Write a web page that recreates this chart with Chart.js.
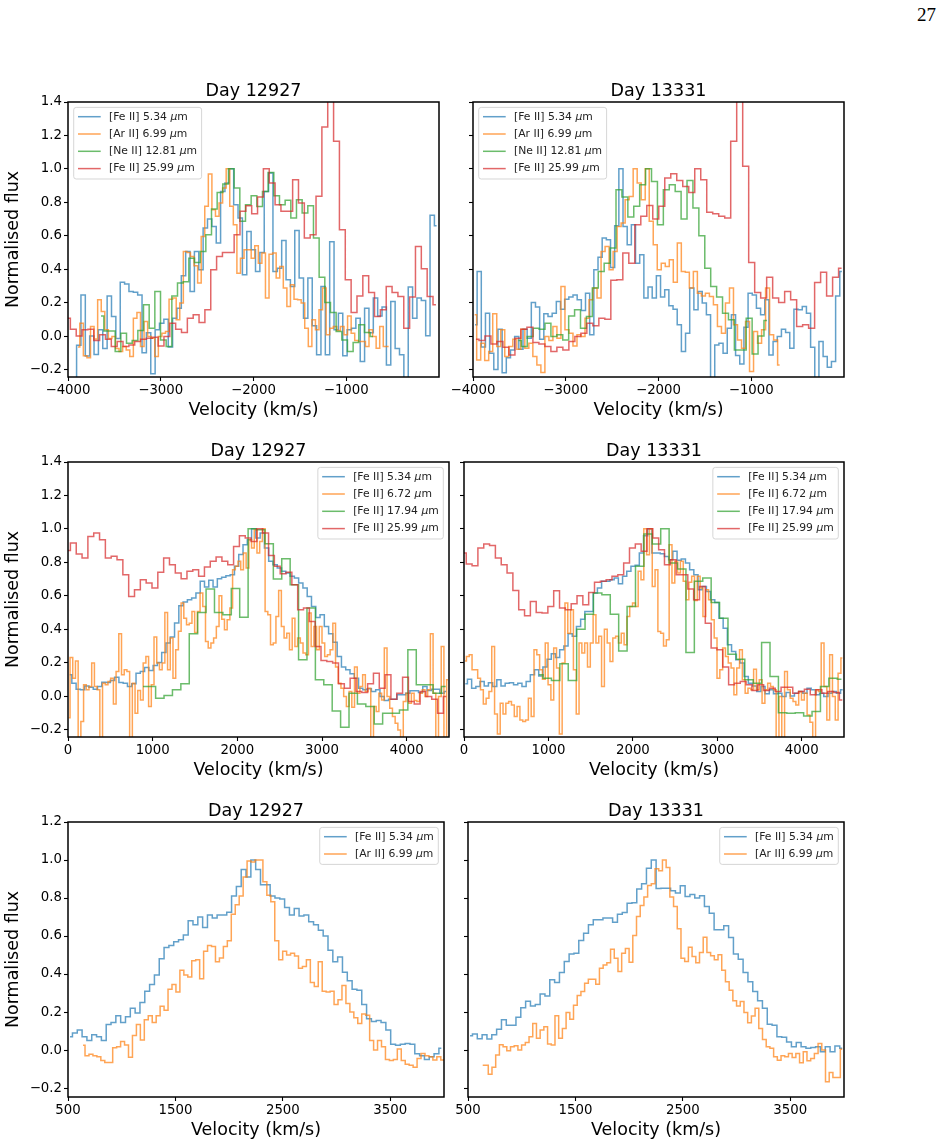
<!DOCTYPE html>
<html>
<head>
<meta charset="utf-8">
<title>Line profiles</title>
<script src="https://cdn.jsdelivr.net/npm/chart.js@4.4.1/dist/chart.umd.min.js"></script>
<style>
    body { margin: 0; background: #fff; width: 945px; height: 1146px; position: relative; overflow: hidden; }
    canvas { position: absolute; }
    #pageNo { position: absolute; left: 917px; top: 5px; font: 19px/19px "Liberation Serif", serif; color: #000; }
</style>
</head>
<body>
<div id="pageNo">27</div>
<canvas id="topA"></canvas>
<canvas id="topB"></canvas>
<canvas id="midA"></canvas>
<canvas id="midB"></canvas>
<canvas id="botA"></canvas>
<canvas id="botB"></canvas>
<script>
"use strict";

// ---- tick labels ----
const yTicksTall = [-0.2, 0.0, 0.2, 0.4, 0.6, 0.8, 1.0, 1.2, 1.4];
const yTicksShort = [-0.2, 0.0, 0.2, 0.4, 0.6, 0.8, 1.0, 1.2];
const xTicksBlue = [-4000, -3000, -2000, -1000];
const xTicksRed = [0, 1000, 2000, 3000, 4000];
const xTicksBottom = [500, 1500, 2500, 3500];

const dayLabels = ['Day 12927', 'Day 13331'];
const linesTop = ['[Fe II] 5.34 μm', '[Ar II] 6.99 μm', '[Ne II] 12.81 μm', '[Fe II] 25.99 μm'];
const linesMid = ['[Fe II] 5.34 μm', '[Fe II] 6.72 μm', '[Fe II] 17.94 μm', '[Fe II] 25.99 μm'];
const linesBot = ['[Fe II] 5.34 μm', '[Ar II] 6.99 μm'];

// ---- spectra: velocity of first and last bin (km/s) + normalised flux per bin ----
// top row, Day 12927
const topA_fe534_v = [-3978, -26];
const topA_fe534 = [-0.3, -0.3, -0.055, 0.245, -0.12, 0, -0.11, 0.037, -0.075, 0.24, 0.117, -0.015, 0.322, 0.312, 0.266, 0.262, 0.246, -0.1, 0.02, -0.226, 0.037, 0.077, 0.1, -0.065, 0.106, 0.166, 0.36, 0.506, 0.266, 0.506, 0.396, 0.646, 0.7, 0.656, 0.556, 0.865, 0.915, 1.0, 0.785, 0.706, 0.367, 0.626, 0.516, 0.386, 0.5, 0.865, 0.975, 0.386, 0.406, 0.572, 0.337, 0.297, 0.632, 0.347, 0.107, 0.347, 0.061, -0.112, 0.297, -0.112, 0.564, 0.037, 0.137, -0.118, 0.037, 0.047, 0.106, -0.153, 0.166, 0.02, 0.227, 0.12, 0.173, -0.173, 0.207, -0.075, -0.112, -0.3, 0.293, 0.106, 0.227, 0.213, 0.002, 0.722, 0.66];
const topA_ar699_v = [-3892, -543];
const topA_ar699 = [-0.065, 0.077, -0.118, -0.13, 0.057, -0.018, 0.217, 0.147, 0.037, -0.015, -0.003, -0.075, -0.093, -0.063, -0.083, -0.123, 0.107, 0.141, -0.063, 0.087, -0.003, -0.013, -0.123, -0.003, 0.017, 0.027, 0.22, 0.227, 0.097, 0.197, 0.506, 0.5, 0.476, 0.42, 0.317, 0.596, 0.776, 0.97, 0.756, 0.716, 0.796, 0.885, 1.0, 0.776, 0.666, 0.376, 0.466, 0.516, 0.516, 0.466, 0.54, 0.436, 0.496, 0.227, 0.49, 0.496, 0.347, 0.416, 0.287, 0.177, 0.307, 0.22, 0.217, 0.197, 0.047, -0.063, 0.097, 0.037, 0.157, 0.287, 0.007, 0.047, 0.057, 0.033, 0.057, 0.007, 0.12, 0.017, -0.027, -0.033, -0.033, -0.063, 0.037, -0.003, -0.073, 0.057, -0.063, -0.063];
const topA_ne1281_v = [-3644, -712];
const topA_ne1281 = [0.12, 0.03, 0.03, -0.093, 0.017, -0.043, -0.027, 0.033, 0.187, 0.047, 0.267, -0.023, -0.063, 0.24, 0.317, 0.325, 0.466, 0.44, 0.506, 0.606, 0.76, 0.859, 0.909, 1.0, 0.885, 0.686, 0.786, 0.839, 0.775, 0.865, 0.979, 0.839, 0.786, 0.812, 0.706, 0.816, 0.736, 0.78, 0.586, 0.352, 0.2, 0.141, 0.027, -0.023, -0.093, -0.039, 0.067, 0.021, -0.003];
const topA_fe2599_v = [-4006, -33];
const topA_fe2599 = [0.107, 0.041, 0.001, 0.037, 0.041, -0.027, 0.007, -0.019, -0.063, -0.033, -0.063, -0.053, -0.033, -0.019, -0.013, -0.007, -0.059, -0.003, 0.077, 0.041, 0.021, 0.107, 0.127, 0.081, 0.157, 0.396, 0.476, 0.5, 0.5, 0.606, 0.746, 0.78, 0.732, 0.831, 1.0, 0.915, 0.786, 0.746, 0.746, 0.935, 0.796, 0.586, 0.606, 0.836, 1.25, 1.6, 1.165, 0.636, 0.337, 0.141, 0.24, 0.361, 0.261, 0.117, 0.157, 0.297, 0.261, 0.237, 0.047, 0.233, 0.536, 0.402, 0.237, 0.187];

// top row, Day 13331
const topB_fe534_v = [-3978, -23];
const topB_fe534 = [0.067, 0.386, -0.065, 0.137, -0.103, -0.2, 0.041, -0.22, -0.13, -0.083, -0.003, -0.079, 0.041, -0.013, 0.2, 0.173, -0.019, 0.133, 0.117, 0.137, 0.207, 0.161, 0.22, 0.233, 0.246, 0.217, 0.153, 0.256, 0.007, 0.396, 0.472, 0.586, 0.576, 0.41, 0.66, 1.0, 0.656, 0.546, 0.666, 0.436, 0.486, 0.227, 0.293, 0.227, 0.361, 0.233, 0.277, 0.181, 0.161, 0.067, -0.093, 0.017, 0.287, 0.157, 0.266, 0.197, 0.127, -0.3, -0.053, -0.043, -0.103, 0.047, 0.127, -0.117, -0.167, 0.053, 0.256, 0.246, 0.166, 0.127, 0.217, -0.113, -0.033, -0.003, 0.041, 0.021, -0.073, 0.161, 0.157, 0.177, 0.137, -0.067, -0.3, -0.033, -0.123, -0.187, -0.153, 0.24, 0.386];
const topB_ar699_v = [-3982, -694];
const topB_ar699 = [0.127, -0.143, -0.043, -0.147, -0.093, 0.133, -0.063, 0.037, -0.123, -0.063, -0.019, -0.079, 0.041, -0.073, -0.043, -0.123, -0.173, -0.218, -0.003, -0.027, 0.057, -0.013, 0.297, 0.037, 0.017, -0.059, 0.007, -0.003, 0.107, 0.217, 0.287, 0.227, 0.506, 0.536, 0.396, 0.506, 0.656, 0.676, 0.815, 0.835, 1.0, 0.915, 0.815, 1.0, 0.686, 0.546, 0.396, 0.436, 0.416, 0.456, 0.322, 0.556, 0.386, 0.381, 0.287, 0.386, 0.256, 0.24, 0.256, 0.237, 0.187, 0.057, 0.017, 0.197, 0.287, 0.067, -0.023, -0.073, 0.087, -0.212, 0.027, -0.043, 0.037, 0.287, 0.007, -0.023, -0.173];
const topB_ne1281_v = [-3511, -831];
const topB_ne1281 = [-0.027, -0.063, -0.003, 0.047, 0.041, 0.077, -0.003, 0.007, -0.023, 0.12, 0.157, 0.047, 0.117, 0.287, 0.386, 0.436, 0.526, 0.875, 0.831, 0.712, 0.776, 0.905, 1.0, 0.925, 0.666, 0.875, 0.905, 0.865, 0.7, 0.931, 0.766, 0.6, 0.406, 0.297, 0.233, 0.137, 0.097, -0.083, -0.083, 0.107, -0.107, 0.001, 0.093];
const topB_fe2599_v = [-3968, -26];
const topB_fe2599 = [-0.019, -0.027, 0.001, -0.047, -0.033, -0.067, -0.113, -0.013, 0.041, 0.053, -0.039, -0.047, -0.063, -0.093, -0.067, -0.083, -0.033, -0.003, 0.017, 0.077, 0.061, 0.107, 0.1, 0.333, 0.337, 0.496, 0.436, 0.666, 0.716, 0.781, 0.7, 0.776, 0.945, 0.971, 0.931, 0.895, 0.859, 1.0, 0.935, 0.74, 0.732, 0.716, 0.706, 1.165, 1.6, 1.015, 0.44, 0.261, 0.227, 0.352, 0.227, 0.201, 0.267, 0.217, 0.057, 0.067, 0.047, 0.321, 0.381, 0.24, 0.352, 0.406];

// middle row, Day 12927
const midA_fe534_v = [20, 4468];
const midA_fe534 = [0.127, 0.077, 0.041, 0.037, 0.06, 0.053, 0.041, 0.057, 0.083, 0.081, 0.093, 0.113, 0.081, 0.077, 0.057, 0.073, 0.137, 0.147, 0.171, 0.153, 0.183, 0.201, 0.261, 0.317, 0.353, 0.437, 0.54, 0.562, 0.576, 0.586, 0.616, 0.686, 0.652, 0.692, 0.652, 0.702, 0.71, 0.72, 0.726, 0.776, 0.846, 0.905, 0.935, 1.0, 0.945, 0.975, 0.885, 0.806, 0.786, 0.766, 0.746, 0.736, 0.716, 0.706, 0.676, 0.646, 0.596, 0.536, 0.47, 0.486, 0.416, 0.372, 0.322, 0.237, 0.173, 0.157, 0.133, 0.107, 0.047, 0.037, 0.043, 0.027, 0.037, -0.003, -0.027, -0.019, -0.019, 0.007, 0.007, 0.017, 0.031, 0.031, 0.021, 0.057, 0.033, 0.041, 0.041, 0.017, 0.027];
const midA_fe672_v = [8, 4488];
const midA_fe672 = [-0.13, 0.23, 0.107, 0.21, -0.3, -0.153, 0.067, 0.037, 0.057, 0.197, 0.057, 0.037, -0.3, 0.077, 0.067, 0.087, 0.107, -0.047, 0.147, 0.372, 0.127, 0.157, 0.147, -0.3, 0.077, -0.103, 0.033, -0.023, 0.197, 0.237, -0.063, 0.067, 0.353, 0.197, 0.157, 0.197, 0.5, 0.157, 0.347, 0.107, 0.277, 0.387, 0.556, 0.466, 0.426, 0.436, 0.506, 0.38, 0.506, 0.616, 0.536, 0.327, 0.287, 0.317, 0.347, 0.416, 0.6, 0.46, 0.396, 0.456, 0.526, 0.756, 0.776, 0.806, 0.756, 0.855, 0.766, 0.935, 0.885, 0.995, 0.855, 0.925, 1.0, 0.506, 0.486, 0.307, 0.317, 0.476, 0.632, 0.416, 0.347, 0.376, 0.277, 0.466, 0.297, 0.347, 0.317, 0.257, 0.247, 0.496, 0.297, 0.416, 0.277, 0.416, 0.317, 0.237, 0.247, 0.277, 0.436, 0.173, 0.077, 0.047, -0.003, -0.063, 0.027, -0.067, 0.173, 0.017, 0.057, 0.127, 0.027, 0.047, -0.3, -0.063, -0.093, 0.017, -0.023, 0.287, -0.003, -0.073, -0.123, -0.163, -0.203, -0.3, -0.033, 0.017, -0.043, 0.017, -0.027, -0.033, 0.017, 0.037, -0.003, 0.037, 0.372, 0.017, -0.3, -0.003, 0.297, -0.3, 0.097];
const midA_fe1794_v = [886, 4461];
const midA_fe1794 = [0.057, 0.057, -0.013, 0.003, 0.037, 0.073, 0.372, 0.5, 0.64, 0.5, 0.486, 0.644, 0.472, 1.0, 0.995, 0.911, 0.7, 0.821, 0.666, 0.217, 0.526, 0.097, 0.067, -0.089, -0.187, 0.017, -0.047, -0.063, -0.167, -0.103, -0.103, -0.083, 0.277, 0.067, 0.067, 0.017, 0.057];
const midA_fe2599_v = [-6, 4468];
const midA_fe2599 = [0.871, 0.915, 0.85, 0.826, 0.955, 0.975, 0.935, 0.826, 0.836, 0.815, 0.726, 0.596, 0.636, 0.696, 0.676, 0.646, 0.74, 0.826, 0.786, 0.736, 0.702, 0.746, 0.756, 0.716, 0.772, 0.806, 0.832, 0.806, 0.786, 0.895, 0.959, 0.945, 0.925, 1.0, 0.975, 0.84, 0.776, 0.732, 0.74, 0.666, 0.516, 0.526, 0.446, 0.297, 0.213, 0.207, 0.197, 0.073, 0.047, 0.107, 0.027, 0.021, 0.073, 0.137, 0.047, 0.127, -0.019, 0.017, 0.113, -0.033, -0.047, 0.027, -0.003, -0.019, -0.103, -0.003];

// middle row, Day 13331
const midB_fe534_v = [16, 4484];
const midB_fe534 = [0.073, 0.1, 0.047, 0.057, 0.087, 0.06, 0.08, 0.057, 0.097, 0.06, 0.077, 0.08, 0.067, 0.077, 0.057, 0.087, 0.127, 0.157, 0.12, 0.173, 0.22, 0.253, 0.23, 0.277, 0.3, 0.372, 0.357, 0.416, 0.46, 0.506, 0.506, 0.616, 0.646, 0.686, 0.686, 0.696, 0.706, 0.672, 0.716, 0.746, 0.776, 0.782, 0.856, 0.959, 1.0, 0.855, 0.855, 0.851, 0.835, 0.815, 0.866, 0.812, 0.82, 0.796, 0.756, 0.726, 0.636, 0.656, 0.626, 0.576, 0.56, 0.466, 0.406, 0.307, 0.267, 0.217, 0.197, 0.117, 0.077, 0.06, 0.027, 0.057, 0.013, 0.037, 0.013, 0.017, -0.003, 0.021, 0.001, 0.017, 0.027, 0.017, 0.047, 0.037, 0.007, 0.017, -0.003, 0.017, 0.027, 0.017, 0.037];
const midB_fe672_v = [12, 4480];
const midB_fe672 = [0.21, 0.237, 0.247, 0.157, 0.157, 0.107, 0.037, -0.047, -0.013, 0.027, 0.297, -0.107, -0.227, -0.043, -0.107, -0.043, -0.033, -0.053, -0.123, -0.063, -0.143, -0.153, -0.143, -0.013, -0.123, 0.277, 0.247, 0.157, 0.1, 0.317, 0.067, -0.023, 0.287, 0.167, -0.227, 0.197, 0.556, 0.376, 0.516, 0.157, -0.107, 0.317, 0.257, 0.317, 0.173, 0.317, 0.486, 0.317, 0.357, 0.057, 0.4, 0.317, 0.207, 0.347, 0.357, 0.317, 0.376, 0.307, 0.476, 0.536, 0.556, 0.536, 0.746, 0.696, 1.0, 0.845, 1.0, 0.656, 0.756, 0.386, 0.376, 0.3, 0.337, 0.905, 0.676, 0.806, 0.736, 0.806, 0.686, 0.576, 0.68, 0.716, 0.572, 0.716, 0.646, 0.476, 0.636, 0.576, 0.456, 0.347, 0.107, 0.157, 0.287, 0.237, 0.197, 0.167, 0.007, 0.167, 0.277, 0.097, 0.017, 0.047, 0.037, 0.16, 0.037, 0.097, -0.043, 0.037, 0.077, 0.057, 0.037, -0.3, -0.003, -0.3, 0.147, 0.037, -0.013, -0.033, -0.053, 0.027, -0.023, 0.017, -0.113, -0.157, -0.3, 0.037, 0.027, 0.317, 0.057, -0.143, 0.247, -0.003, -0.143, 0.137, 0.227];
const midB_fe1794_v = [886, 4470];
const midB_fe1794 = [0.127, 0.107, 0.093, 0.193, 0.093, 0.4, 0.49, 0.616, 0.606, 0.49, 0.27, 0.536, 0.776, 0.97, 0.91, 1.0, 0.796, 0.76, 0.26, 0.686, 0.706, 0.56, 0.466, 0.25, 0.22, 0.097, 0.077, 0.32, 0.117, -0.1, -0.103, -0.1, -0.12, -0.093, 0.057, 0.107, 0.1];
const midB_fe2599_v = [-8, 4480];
const midB_fe2599 = [0.855, 0.79, 0.78, 0.885, 0.91, 0.9, 0.826, 0.786, 0.736, 0.632, 0.516, 0.48, 0.566, 0.5, 0.496, 0.536, 0.63, 0.526, 0.516, 0.552, 0.6, 0.546, 0.62, 0.68, 0.686, 0.696, 0.716, 0.726, 0.796, 0.885, 0.91, 0.866, 1.0, 0.945, 0.875, 0.786, 0.816, 0.726, 0.726, 0.64, 0.576, 0.656, 0.436, 0.287, 0.277, 0.173, 0.067, 0.077, 0.087, 0.067, 0.033, 0.067, 0.033, 0.047, 0.027, 0.053, 0.053, 0.017, 0.027, 0.041, 0.007, 0.037, 0.017, 0.027, 0.021, -0.023];

// bottom row, Day 12927
const botA_fe534_v = [519, 3975];
const botA_fe534 = [0.07, 0.09, 0.105, 0.07, 0.05, 0.08, 0.07, 0.05, 0.135, 0.145, 0.18, 0.145, 0.175, 0.22, 0.195, 0.25, 0.31, 0.345, 0.395, 0.48, 0.54, 0.55, 0.57, 0.58, 0.605, 0.68, 0.66, 0.70, 0.645, 0.71, 0.695, 0.71, 0.71, 0.725, 0.81, 0.86, 0.95, 0.91, 1.0, 0.95, 0.87, 0.87, 0.81, 0.80, 0.795, 0.75, 0.71, 0.745, 0.705, 0.71, 0.675, 0.66, 0.63, 0.6, 0.525, 0.465, 0.49, 0.41, 0.365, 0.32, 0.315, 0.24, 0.165, 0.15, 0.155, 0.145, 0.105, 0.03, 0.025, 0.03, 0.035, 0.03, -0.02, -0.03, -0.05, -0.035, -0.02, 0.01];
const botA_ar699_v = [640, 4099];
const botA_ar699 = [0.025, -0.03, -0.022, -0.03, -0.035, -0.055, -0.065, -0.065, 0.012, 0.018, 0.045, 0.027, -0.038, 0.076, 0.135, 0.053, 0.16, 0.18, 0.145, 0.18, 0.23, 0.21, 0.32, 0.345, 0.305, 0.42, 0.395, 0.385, 0.47, 0.475, 0.375, 0.52, 0.55, 0.545, 0.465, 0.485, 0.545, 0.575, 0.715, 0.765, 0.81, 0.91, 0.995, 0.99, 1.0, 1.0, 0.885, 0.815, 0.78, 0.575, 0.475, 0.52, 0.5, 0.51, 0.495, 0.43, 0.44, 0.475, 0.355, 0.335, 0.465, 0.31, 0.305, 0.31, 0.24, 0.265, 0.34, 0.245, 0.2, 0.17, 0.14, 0.19, 0.183, 0.05, 0, 0.05, 0.018, -0.05, -0.055, -0.05, 0.005, -0.055, -0.075, -0.08, -0.09, -0.045, -0.018, -0.03, -0.035, -0.052, -0.035, -0.052, -0.018, -0.035, 0.018];

// bottom row, Day 13331
const botB_fe534_v = [519, 3983];
const botB_fe534 = [0.075, 0.085, 0.06, 0.08, 0.058, 0.08, 0.11, 0.16, 0.13, 0.13, 0.172, 0.223, 0.257, 0.232, 0.24, 0.295, 0.285, 0.37, 0.355, 0.408, 0.466, 0.506, 0.51, 0.576, 0.615, 0.66, 0.685, 0.685, 0.695, 0.695, 0.672, 0.715, 0.724, 0.773, 0.775, 0.847, 0.875, 0.956, 1.0, 0.85, 0.852, 0.852, 0.838, 0.826, 0.865, 0.808, 0.818, 0.8, 0.812, 0.755, 0.72, 0.633, 0.633, 0.654, 0.592, 0.505, 0.478, 0.408, 0.36, 0.308, 0.26, 0.22, 0.136, 0.13, 0.07, 0.067, 0.042, 0.018, 0.04, 0.018, 0.009, 0.014, 0.018, -0.009, 0.018, -0.009, 0.021, 0.009];
const botB_ar699_v = [637, 3983];
const botB_ar699 = [-0.08, -0.08, -0.127, -0.09, -0.026, 0.028, 0.018, -0.004, 0.018, 0.023, 0, 0.026, 0.04, 0.07, 0.14, 0.062, 0.106, 0.123, 0.032, 0.026, 0.181, 0.062, 0.114, 0.197, 0.162, 0.236, 0.287, 0.308, 0.352, 0.373, 0.373, 0.346, 0.43, 0.448, 0.46, 0.531, 0.483, 0.413, 0.51, 0.534, 0.462, 0.603, 0.703, 0.76, 0.805, 0.866, 0.875, 0.954, 0.944, 1.0, 0.96, 0.805, 0.756, 0.638, 0.483, 0.466, 0.541, 0.492, 0.459, 0.513, 0.594, 0.513, 0.496, 0.475, 0.501, 0.42, 0.36, 0.315, 0.26, 0.232, 0.255, 0.197, 0.144, 0.179, 0.22, 0.114, 0.056, 0.018, 0.009, -0.035, -0.053, -0.03, -0.035, -0.018, -0.039, -0.018, -0.067, -0.009, -0.056, -0.044, -0.018, 0.035, 0, -0.167, -0.118, -0.144, -0.144, 0.004];

const colours = ['rgba(31,119,180,0.7)', 'rgba(255,127,14,0.7)', 'rgba(44,160,44,0.7)', 'rgba(214,39,40,0.7)'];

Chart.defaults.font.family = '"DejaVu Sans", sans-serif';
Chart.defaults.color = '#000';

// bin centres are evenly spaced between the first and last velocity
function toPoints(vRange, flux) {
    const dv = (vRange[1] - vRange[0]) / (flux.length - 1);
    return flux.map((f, i) => ({ x: vRange[0] + i * dv, y: f }));
}

function minusSign(s) {
    return String(s).replace('-', '\u2212');
}

function drawLegend(ctx, area, items, corner) {
    const fs = 10.8;
    const normal = fs + 'px "DejaVu Sans"';
    const italic = 'italic ' + fs + 'px "DejaVu Sans"';
    const parts = items.map(it => {
        const k = it.label.indexOf('μ');
        return [it.label.slice(0, k), 'μ', it.label.slice(k + 1)];
    });
    const widthOf = p => {
        ctx.font = normal;
        let w = ctx.measureText(p[0]).width + ctx.measureText(p[2]).width;
        ctx.font = italic;
        return w + ctx.measureText(p[1]).width;
    };
    const textW = Math.max(...parts.map(widthOf));
    const w = 35.3 + textW + 4.5;
    const h = 9.3 + (items.length - 1) * 17.3 + 10.4;
    const x = corner === 'left' ? area.left + 5.7 : area.right - 5.7 - w;
    const y = area.top + 5.4;

    ctx.save();
    ctx.beginPath();
    ctx.roundRect(x, y, w, h, 2.5);
    ctx.fillStyle = 'rgba(255,255,255,0.8)';
    ctx.fill();
    ctx.strokeStyle = 'rgba(204,204,204,0.8)';
    ctx.lineWidth = 1;
    ctx.stroke();

    items.forEach((it, i) => {
        const cy = y + 9.3 + i * 17.3;
        ctx.strokeStyle = it.color;
        ctx.lineWidth = 1.5;
        ctx.beginPath();
        ctx.moveTo(x + 4.3, cy);
        ctx.lineTo(x + 27, cy);
        ctx.stroke();

        let tx = x + 35.3;
        ctx.fillStyle = '#222';
        ctx.textBaseline = 'middle';
        ctx.textAlign = 'left';
        ctx.font = normal;
        ctx.fillText(parts[i][0], tx, cy);
        tx += ctx.measureText(parts[i][0]).width;
        ctx.font = italic;
        ctx.fillText(parts[i][1], tx, cy);
        tx += ctx.measureText(parts[i][1]).width;
        ctx.font = normal;
        ctx.fillText(parts[i][2], tx, cy);
    });
    ctx.restore();
}

// panel title, axes frame and the legend inside the axes
const panelDecor = {
    id: 'panelDecor',
    afterDraw(chart, args, opts) {
        const { ctx, chartArea: a } = chart;
        ctx.save();
        ctx.fillStyle = '#000';
        ctx.font = '17.5px "DejaVu Sans"';
        ctx.textAlign = 'center';
        ctx.textBaseline = 'alphabetic';
        ctx.fillText(opts.title, (a.left + a.right) / 2, a.top - 5.6);

        ctx.strokeStyle = '#000';
        ctx.lineWidth = 1.5;
        ctx.strokeRect(a.left, a.top, a.right - a.left, a.bottom - a.top);
        ctx.restore();

        const items = chart.data.datasets.map(d => ({ label: d.label, color: d.borderColor }));
        drawLegend(ctx, a, items, opts.legendCorner);
    }
};

function makePanel(id, box, area, cfg) {
    const canvas = document.getElementById(id);
    canvas.width = box.w;
    canvas.height = box.h;
    canvas.style.left = box.x + 'px';
    canvas.style.top = box.y + 'px';

    const datasets = cfg.series.map((s, i) => ({
        label: s.label,
        data: toPoints(s.v, s.flux),
        borderColor: colours[i],
        borderWidth: 1.5,
        stepped: 'middle',
        pointRadius: 0,
        fill: false,
        order: cfg.series.length - i
    }));

    const tickGrid = { display: true, drawOnChartArea: false, drawTicks: true, tickLength: 4, tickWidth: 1.1, tickColor: '#000' };

    new Chart(canvas, {
        type: 'line',
        data: { datasets: datasets },
        options: {
            responsive: false,
            animation: false,
            events: [],
            layout: {
                autoPadding: false,
                padding: { left: 0, top: area.t - box.y, right: box.x + box.w - area.r, bottom: 0 }
            },
            plugins: {
                legend: { display: false },
                tooltip: { enabled: false },
                panelDecor: { title: cfg.title, legendCorner: cfg.legendCorner }
            },
            scales: {
                x: {
                    type: 'linear',
                    min: cfg.xMin,
                    max: cfg.xMax,
                    afterBuildTicks: scale => { scale.ticks = cfg.xTicks.map(v => ({ value: v })); },
                    afterFit: scale => { scale.height = box.y + box.h - area.b; },
                    ticks: { autoSkip: false, maxRotation: 0, padding: 2, font: { size: 13.3 }, color: '#000', callback: v => minusSign(v) },
                    grid: tickGrid,
                    border: { display: false },
                    title: { display: true, text: 'Velocity (km/s)', color: '#000', font: { size: 17.5 }, padding: { top: 0, bottom: cfg.xTitlePad } }
                },
                y: {
                    type: 'linear',
                    min: cfg.yMin,
                    max: cfg.yMax,
                    afterBuildTicks: scale => { scale.ticks = cfg.yTicks.map(v => ({ value: v })); },
                    afterFit: scale => { scale.width = area.l - box.x; },
                    ticks: {
                        autoSkip: false, padding: 2, font: { size: 13.3 }, color: '#000',
                        callback: v => cfg.showY ? minusSign(v.toFixed(1)) : ''
                    },
                    grid: tickGrid,
                    border: { display: false },
                    title: { display: cfg.showY, text: 'Normalised flux', color: '#000', font: { size: 17.5 }, padding: { top: 3, bottom: 0 } }
                }
            }
        },
        plugins: [panelDecor]
    });
}

function series(labels, pairs) {
    return pairs.map((p, i) => ({ label: labels[i], v: p[0], flux: p[1] }));
}

// ---- top row ----
makePanel('topA', { x: 0, y: 62, w: 462, h: 368 }, { l: 68, t: 102, r: 439, b: 377 }, {
    title: dayLabels[0], legendCorner: 'left', showY: true,
    xMin: -4000, xMax: 0, xTicks: xTicksBlue, yMin: -0.245, yMax: 1.4, yTicks: yTicksTall, xTitlePad: 9.5,
    series: series(linesTop, [[topA_fe534_v, topA_fe534], [topA_ar699_v, topA_ar699], [topA_ne1281_v, topA_ne1281], [topA_fe2599_v, topA_fe2599]])
});
makePanel('topB', { x: 440, y: 62, w: 505, h: 368 }, { l: 473, t: 102, r: 844, b: 377 }, {
    title: dayLabels[1], legendCorner: 'left', showY: false,
    xMin: -4000, xMax: 0, xTicks: xTicksBlue, yMin: -0.245, yMax: 1.4, yTicks: yTicksTall, xTitlePad: 9.5,
    series: series(linesTop, [[topB_fe534_v, topB_fe534], [topB_ar699_v, topB_ar699], [topB_ne1281_v, topB_ne1281], [topB_fe2599_v, topB_fe2599]])
});

// ---- middle row ----
makePanel('midA', { x: 0, y: 422, w: 462, h: 368 }, { l: 68, t: 462, r: 449, b: 737 }, {
    title: dayLabels[0], legendCorner: 'right', showY: true,
    xMin: 0, xMax: 4500, xTicks: xTicksRed, yMin: -0.245, yMax: 1.4, yTicks: yTicksTall, xTitlePad: 9.5,
    series: series(linesMid, [[midA_fe534_v, midA_fe534], [midA_fe672_v, midA_fe672], [midA_fe1794_v, midA_fe1794], [midA_fe2599_v, midA_fe2599]])
});
makePanel('midB', { x: 440, y: 422, w: 505, h: 368 }, { l: 464, t: 462, r: 844, b: 737 }, {
    title: dayLabels[1], legendCorner: 'right', showY: false,
    xMin: 0, xMax: 4500, xTicks: xTicksRed, yMin: -0.245, yMax: 1.4, yTicks: yTicksTall, xTitlePad: 9.5,
    series: series(linesMid, [[midB_fe534_v, midB_fe534], [midB_fe672_v, midB_fe672], [midB_fe1794_v, midB_fe1794], [midB_fe2599_v, midB_fe2599]])
});

// ---- bottom row ----
makePanel('botA', { x: 0, y: 782, w: 462, h: 364 }, { l: 68, t: 822, r: 444, b: 1097 }, {
    title: dayLabels[0], legendCorner: 'right', showY: true,
    xMin: 500, xMax: 4000, xTicks: xTicksBottom, yMin: -0.247, yMax: 1.2, yTicks: yTicksShort, xTitlePad: 5.5,
    series: series(linesBot, [[botA_fe534_v, botA_fe534], [botA_ar699_v, botA_ar699]])
});
makePanel('botB', { x: 440, y: 782, w: 505, h: 364 }, { l: 468, t: 822, r: 844, b: 1097 }, {
    title: dayLabels[1], legendCorner: 'right', showY: false,
    xMin: 500, xMax: 4000, xTicks: xTicksBottom, yMin: -0.247, yMax: 1.2, yTicks: yTicksShort, xTitlePad: 5.5,
    series: series(linesBot, [[botB_fe534_v, botB_fe534], [botB_ar699_v, botB_ar699]])
});
</script>
</body>
</html>
